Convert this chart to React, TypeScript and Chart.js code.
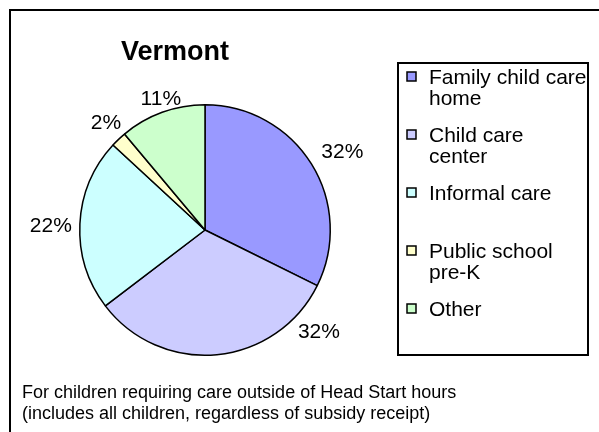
import React, { useEffect, useRef } from "react";
import { Chart, registerables } from "chart.js";

Chart.register(...registerables);

const categories = [
  "Family child care home",
  "Child care center",
  "Informal care",
  "Public school pre-K",
  "Other",
];
const shares = [32, 32, 22, 2, 11];
const sliceColors = ["#9999FF", "#CCCCFF", "#CCFFFF", "#FFFFCC", "#CCFFCC"];
const chartTitle = "Vermont";
const footnoteLines = [
  "For children requiring care outside of Head Start hours",
  "(includes all children, regardless of subsidy receipt)",
];

// label placement tweaks (styling only)
const labelAngleShift = [2, -43, -1, 1, 1.5];
const labelRadialGap = [33, 27, 29, 21, 14];

const FONT = "'Liberation Sans', Arial, sans-serif";

function wrapText(ctx: CanvasRenderingContext2D, text: string, maxWidth: number): string[] {
  const words = text.split(" ");
  const lines: string[] = [];
  let cur = "";
  for (const w of words) {
    const test = cur ? cur + " " + w : w;
    if (cur && ctx.measureText(test).width > maxWidth) {
      lines.push(cur);
      cur = w;
    } else {
      cur = test;
    }
  }
  if (cur) lines.push(cur);
  return lines;
}

const decorPlugin = {
  id: "decor",
  beforeDraw(chart: any) {
    const ctx: CanvasRenderingContext2D = chart.ctx;
    ctx.save();
    ctx.fillStyle = "#ffffff";
    ctx.fillRect(0, 0, chart.width, chart.height);
    ctx.strokeStyle = "#000000";
    ctx.lineWidth = 2;
    ctx.strokeRect(10, 10, 800, 600);
    ctx.restore();
  },
  afterDatasetsDraw(chart: any) {
    const ctx: CanvasRenderingContext2D = chart.ctx;
    ctx.save();
    // data labels
    ctx.fillStyle = "#000";
    ctx.font = `21px ${FONT}`;
    ctx.textAlign = "center";
    ctx.textBaseline = "middle";
    const meta = chart.getDatasetMeta(0);
    meta.data.forEach((arc: any, i: number) => {
      const p = arc.getProps(["x", "y", "startAngle", "endAngle", "outerRadius"], true);
      const mid = (p.startAngle + p.endAngle) / 2 + (labelAngleShift[i] * Math.PI) / 180;
      const r = p.outerRadius + labelRadialGap[i];
      ctx.fillText(`${shares[i]}%`, p.x + r * Math.cos(mid), p.y + r * Math.sin(mid) + 1);
    });

    // title
    ctx.font = `bold 27px ${FONT}`;
    ctx.textBaseline = "alphabetic";
    ctx.fillText(chartTitle, 175, 60);

    // legend
    ctx.lineWidth = 2;
    ctx.strokeStyle = "#000";
    ctx.strokeRect(398, 63, 190, 292);
    ctx.font = `21px ${FONT}`;
    ctx.textAlign = "left";
    categories.forEach((label, i) => {
      const base = 84 + i * 58;
      ctx.fillStyle = sliceColors[i];
      ctx.fillRect(407, base - 12, 9, 9);
      ctx.lineWidth = 1.5;
      ctx.strokeStyle = "#000";
      ctx.strokeRect(407, base - 12, 9, 9);
      ctx.fillStyle = "#000";
      const lines = wrapText(ctx, label, 158);
      lines.forEach((ln, j) => ctx.fillText(ln, 429, base + j * 21));
    });

    // footnote
    ctx.font = `18px ${FONT}`;
    footnoteLines.forEach((ln, j) => ctx.fillText(ln, 22, 398 + j * 21));
    ctx.restore();
  },
};

export default function App() {
  const ref = useRef<HTMLCanvasElement>(null);
  useEffect(() => {
    if (!ref.current) return;
    const chart = new Chart(ref.current, {
      type: "pie",
      data: {
        labels: categories,
        datasets: [
          {
            data: shares,
            backgroundColor: sliceColors,
            borderColor: "#000000",
            borderWidth: 1.5,
          },
        ],
      },
      options: {
        responsive: false,
        animation: false,
        layout: { padding: { left: 79, right: 268, top: 104, bottom: 76 } },
        plugins: {
          legend: { display: false },
          title: { display: false },
          tooltip: { enabled: false },
        },
      },
      plugins: [decorPlugin],
    });
    return () => chart.destroy();
  }, []);
  return (
    <div style={{ position: "absolute", left: 0, top: 0, width: 599, height: 432 }}>
      <canvas ref={ref} width={599} height={432} style={{ display: "block" }} />
    </div>
  );
}
